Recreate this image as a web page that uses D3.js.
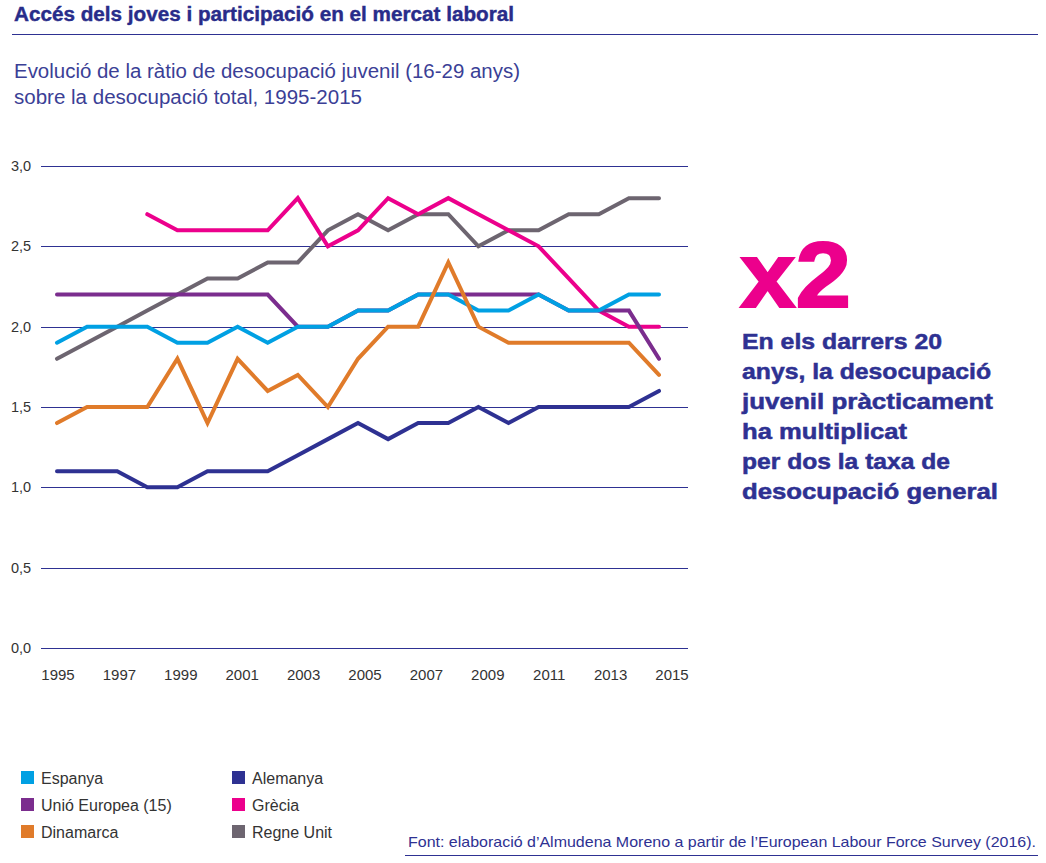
<!DOCTYPE html>
<html><head><meta charset="utf-8">
<script src="https://cdn.jsdelivr.net/npm/d3@7"></script>
<style>
html,body{margin:0;padding:0;background:#fff;}
svg{display:block;}
text{font-family:"Liberation Sans",Arial,sans-serif;}
</style></head>
<body>
<svg id="c" width="1046" height="863"></svg>
<script>
const years = d3.range(1995, 2016);
const xTickLabels = [1995,1997,1999,2001,2003,2005,2007,2009,2011,2013,2015];
const yTicks = [0,0.5,1,1.5,2,2.5,3];

const espanya   = [1.9,2.0,2.0,2.0,1.9,1.9,2.0,1.9,2.0,2.0,2.1,2.1,2.2,2.2,2.1,2.1,2.2,2.1,2.1,2.2,2.2];
const ue15      = [2.2,2.2,2.2,2.2,2.2,2.2,2.2,2.2,2.0,2.0,2.1,2.1,2.2,2.2,2.2,2.2,2.2,2.1,2.1,2.1,1.8];
const dinamarca = [1.4,1.5,1.5,1.5,1.8,1.4,1.8,1.6,1.7,1.5,1.8,2.0,2.0,2.4,2.0,1.9,1.9,1.9,1.9,1.9,1.7];
const alemanya  = [1.1,1.1,1.1,1.0,1.0,1.1,1.1,1.1,1.2,1.3,1.4,1.3,1.4,1.4,1.5,1.4,1.5,1.5,1.5,1.5,1.6];
const grecia    = [null,null,null,2.7,2.6,2.6,2.6,2.6,2.8,2.5,2.6,2.8,2.7,2.8,2.7,2.6,2.5,2.3,2.1,2.0,2.0];
const regneUnit = [1.8,1.9,2.0,2.1,2.2,2.3,2.3,2.4,2.4,2.6,2.7,2.6,2.7,2.7,2.5,2.6,2.6,2.7,2.7,2.8,2.8];

const seriesNames = ["Espanya","Unió Europea (15)","Dinamarca","Alemanya","Grècia","Regne Unit"];
const seriesValues = [espanya, ue15, dinamarca, alemanya, grecia, regneUnit];
const seriesColors = ["#00a0e3","#7b2d8e","#e07b2a","#2e3192","#ec008c","#6d6570"];
// drawing order (bottom to top)
const drawOrder = [3,5,4,1,0,2];

const navy = "#2e3192";
const svg = d3.select("#c");

// Header
svg.append("text").attr("x",14).attr("y",21)
  .attr("font-size",20).attr("font-weight","bold").attr("fill","#282c8a")
  .attr("stroke","#282c8a").attr("stroke-width",0.4)
  .attr("textLength",500).attr("lengthAdjust","spacingAndGlyphs")
  .text("Accés dels joves i participació en el mercat laboral");
svg.append("line").attr("x1",12).attr("x2",1038).attr("y1",34.5).attr("y2",34.5)
  .attr("stroke",navy).attr("stroke-width",1).attr("shape-rendering","crispEdges");

const subLines = ["Evolució de la ràtio de desocupació juvenil (16-29 anys)","sobre la desocupació total, 1995-2015"];
const subW = [506, 348];
svg.selectAll("text.sub").data(subLines).join("text").attr("class","sub")
  .attr("x",14).attr("y",(d,i)=>78+i*26)
  .attr("font-size",19.5).attr("fill","#3b3f96")
  .attr("textLength",(d,i)=>subW[i]).attr("lengthAdjust","spacingAndGlyphs")
  .text(d=>d);

// Scales
const x = d3.scaleLinear().domain([1995,2015]).range([57,659]);
const xLab = d3.scaleLinear().domain([1995,2015]).range([58,672]);
const y = d3.scaleLinear().domain([0,3]).range([648,166]);

// Grid
svg.append("g").selectAll("line").data(yTicks).join("line")
  .attr("x1",41).attr("x2",688)
  .attr("y1",d=>Math.round(y(d))+0.5).attr("y2",d=>Math.round(y(d))+0.5)
  .attr("stroke",navy).attr("stroke-width",1).attr("shape-rendering","crispEdges");

const fmt = d => d3.format(".1f")(d).replace(".",",");
svg.append("g").selectAll("text").data(yTicks).join("text")
  .attr("x",11).attr("y",d=>y(d)+5)
  .attr("font-size",14.5).attr("fill","#333")
  .text(fmt);

svg.append("g").selectAll("text").data(xTickLabels).join("text")
  .attr("x",d=>xLab(d)).attr("y",680).attr("text-anchor","middle")
  .attr("font-size",15).attr("fill","#333")
  .text(d=>d);

// Lines
const line = d3.line().defined(d=>d[1]!=null).x(d=>x(d[0])).y(d=>y(d[1]));
const gl = svg.append("g");
drawOrder.forEach(i=>{
  gl.append("path").datum(years.map((yr,k)=>[yr, seriesValues[i][k]]))
    .attr("d",line).attr("fill","none")
    .attr("stroke",seriesColors[i]).attr("stroke-width",4)
    .attr("stroke-linecap","round").attr("stroke-linejoin","miter");
});

// Annotation
svg.append("text").attr("x",740).attr("y",307)
  .attr("font-family","Roboto, 'Liberation Sans', sans-serif")
  .attr("font-size",92).attr("font-weight",900).attr("fill","#ec008c")
  .attr("stroke","#ec008c").attr("stroke-width",2)
  .attr("textLength",111).attr("lengthAdjust","spacingAndGlyphs")
  .text("x2");
const body = ["En els darrers 20","anys, la desocupació","juvenil pràcticament","ha multiplicat","per dos la taxa de","desocupació general"];
const bodyW = [200,249,251,165,208,256];
svg.selectAll("text.body").data(body).join("text").attr("class","body")
  .attr("x",742).attr("y",(d,i)=>349+i*30)
  .attr("font-family","Roboto, 'Liberation Sans', sans-serif")
  .attr("font-size",21.5).attr("font-weight",900).attr("fill",navy)
  .attr("stroke",navy).attr("stroke-width",0.5)
  .attr("textLength",(d,i)=>bodyW[i]).attr("lengthAdjust","spacingAndGlyphs")
  .text(d=>d);

// Legend
const legCols = [[0,1,2],[3,4,5]];
const legX = [21,232];
const legY = [778,805,832];
legCols.forEach((col,c)=>{
  col.forEach((si,r)=>{
    svg.append("rect").attr("x",legX[c]).attr("y",legY[r]-7).attr("width",13).attr("height",13)
      .attr("fill",seriesColors[si]);
    svg.append("text").attr("x",legX[c]+20).attr("y",legY[r]+6)
      .attr("font-size",16).attr("fill","#333").text(seriesNames[si]);
  });
});

// Source
svg.append("text").attr("x",408).attr("y",847)
  .attr("font-size",15).attr("fill",navy)
  .attr("textLength",628).attr("lengthAdjust","spacingAndGlyphs")
  .text("Font: elaboració d’Almudena Moreno a partir de l’European Labour Force Survey (2016).");
svg.append("line").attr("x1",405).attr("x2",1038).attr("y1",855.5).attr("y2",855.5)
  .attr("stroke",navy).attr("stroke-width",1).attr("shape-rendering","crispEdges");
</script>
</body></html>
